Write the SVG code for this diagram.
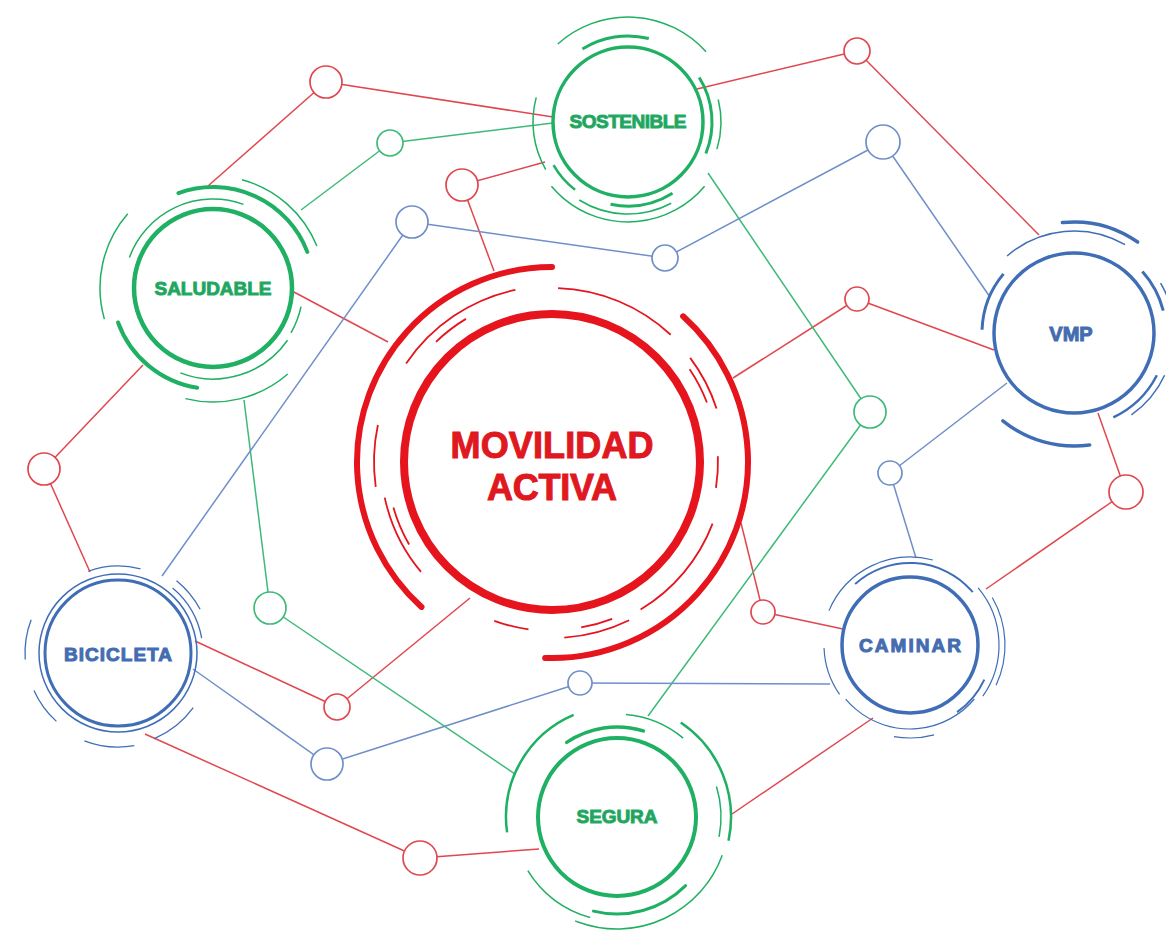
<svg xmlns="http://www.w3.org/2000/svg" width="1166" height="932" viewBox="0 0 1166 932">
<style>
.ln{fill:none;stroke-width:1.5}
.r{stroke:#e0474e}
.g{stroke:#3dba78}
.b{stroke:#6f8fc9}
.dot{fill:#fff;stroke-width:1.7}
.arc{fill:none}
.G{stroke:#1fb063}
.B{stroke:#3f6eb6}
.R{stroke:#e5141d}
.main{fill:#fff}
.lbl{font-family:"Liberation Sans",Arial,sans-serif;font-weight:bold;text-anchor:middle}
.gt{fill:#2a9c63;font-size:19px}
.bt{fill:#4a6ca8;font-size:19px}
.rt{fill:#dc1a1f;font-size:36px}
</style>
<rect width="1166" height="932" fill="#fff"/>
<g id="connectors" class="ln">
 <g class="r">
  <line x1="208" y1="186" x2="326" y2="82"/>
  <line x1="326" y1="82" x2="553" y2="117"/>
  <line x1="697" y1="89" x2="857" y2="51"/>
  <line x1="857" y1="51" x2="1039" y2="235"/>
  <line x1="462" y1="185" x2="545" y2="162"/>
  <line x1="462" y1="185" x2="494" y2="271"/>
  <line x1="292" y1="291" x2="388" y2="342"/>
  <line x1="733" y1="378" x2="857" y2="299"/>
  <line x1="857" y1="299" x2="994" y2="350"/>
  <line x1="1098" y1="413" x2="1126" y2="492"/>
  <line x1="1126" y1="492" x2="986" y2="589"/>
  <line x1="143" y1="365" x2="44" y2="469"/>
  <line x1="44" y1="469" x2="90" y2="572"/>
  <line x1="195" y1="641" x2="337" y2="707"/>
  <line x1="337" y1="707" x2="470" y2="598"/>
  <line x1="741" y1="523" x2="763" y2="612"/>
  <line x1="763" y1="612" x2="843" y2="629"/>
  <line x1="145" y1="734" x2="420" y2="858"/>
  <line x1="420" y1="858" x2="539" y2="849"/>
  <line x1="873" y1="718" x2="732" y2="814"/>
 </g>
 <g class="g">
  <line x1="301" y1="210" x2="390" y2="143"/>
  <line x1="390" y1="143" x2="553" y2="123"/>
  <line x1="708" y1="173" x2="870" y2="412"/>
  <line x1="870" y1="412" x2="648" y2="716"/>
  <line x1="244" y1="400" x2="270" y2="608"/>
  <line x1="270" y1="608" x2="515" y2="774"/>
 </g>
 <g class="b">
  <line x1="412" y1="222" x2="162" y2="576"/>
  <line x1="412" y1="222" x2="665" y2="258"/>
  <line x1="665" y1="258" x2="883" y2="142"/>
  <line x1="883" y1="142" x2="990" y2="297"/>
  <line x1="1007" y1="383" x2="890" y2="473"/>
  <line x1="890" y1="473" x2="916" y2="558"/>
  <line x1="580" y1="683" x2="830" y2="684"/>
  <line x1="580" y1="683" x2="327" y2="764"/>
  <line x1="327" y1="764" x2="193" y2="669"/>
 </g>
</g>
<g id="junctions">
 <circle id="r1" class="dot r" cx="326" cy="82" r="16"/>
 <circle id="r2" class="dot r" cx="857" cy="51" r="13"/>
 <circle id="r3" class="dot r" cx="462" cy="185" r="16"/>
 <circle id="r4" class="dot r" cx="857" cy="299" r="12"/>
 <circle id="r5" class="dot r" cx="44" cy="469" r="16"/>
 <circle id="r6" class="dot r" cx="1126" cy="492" r="17"/>
 <circle id="r7" class="dot r" cx="763" cy="612" r="12"/>
 <circle id="r8" class="dot r" cx="337" cy="707" r="13"/>
 <circle id="r9" class="dot r" cx="420" cy="858" r="17"/>
 <circle id="g1" class="dot g" cx="390" cy="143" r="13"/>
 <circle id="g2" class="dot g" cx="870" cy="412" r="16"/>
 <circle id="g3" class="dot g" cx="270" cy="608" r="16"/>
 <circle id="b1" class="dot b" cx="412" cy="222" r="16"/>
 <circle id="b2" class="dot b" cx="883" cy="142" r="17"/>
 <circle id="b3" class="dot b" cx="665" cy="258" r="13"/>
 <circle id="b4" class="dot b" cx="890" cy="473" r="12"/>
 <circle id="b5" class="dot b" cx="580" cy="683" r="12"/>
 <circle id="b6" class="dot b" cx="327" cy="764" r="16"/>
</g>
<g id="movilidad" transform="translate(552 462)" class="arc R">
 <circle class="main" r="148" stroke-width="8"/>
 <circle r="195" stroke-width="6" pathLength="360" stroke-dasharray="138 360" transform="rotate(132)" stroke-linecap="round"/>
 <circle r="196" stroke-width="6" pathLength="360" stroke-dasharray="140 360" transform="rotate(-48)" stroke-linecap="round"/>
 <g stroke-width="1.8">
  <circle r="176" pathLength="360" stroke-dasharray="44 360" transform="rotate(214)"/>
  <circle r="174" pathLength="360" stroke-dasharray="41 360" transform="rotate(-88)"/>
  <circle r="167" pathLength="360" stroke-dasharray="13 360" transform="rotate(226)"/>
  <circle r="173" pathLength="360" stroke-dasharray="19 360" transform="rotate(-37)"/>
  <circle r="166" pathLength="360" stroke-dasharray="13 360" transform="rotate(-34)"/>
  <circle r="166" pathLength="360" stroke-dasharray="11 360" transform="rotate(-2)"/>
  <circle r="172" pathLength="360" stroke-dasharray="38 360" transform="rotate(21)"/>
  <circle r="176" pathLength="360" stroke-dasharray="22 360" transform="rotate(64)"/>
  <circle r="169" pathLength="360" stroke-dasharray="12 360" transform="rotate(98)"/>
  <circle r="168" pathLength="360" stroke-dasharray="11 360" transform="rotate(69)"/>
  <circle r="178" pathLength="360" stroke-dasharray="20 360" transform="rotate(172)"/>
  <circle r="171" pathLength="360" stroke-dasharray="28 360" transform="rotate(140)"/>
  <circle r="165" pathLength="360" stroke-dasharray="14 360" transform="rotate(150)"/>
 </g>
 <text class="lbl rt" y="-4" textLength="203">MOVILIDAD</text>
 <text class="lbl rt" y="38" textLength="130">ACTIVA</text>
</g>
<g id="sostenible" transform="translate(628 122)" class="arc G">
 <circle class="main" r="75" stroke-width="3.5"/>
 <circle r="105" stroke-width="1.5" pathLength="360" stroke-dasharray="90 360" transform="rotate(-132)"/>
 <circle r="86" stroke-width="3" pathLength="360" stroke-dasharray="46 360" transform="rotate(-122)"/>
 <circle r="84" stroke-width="3" pathLength="360" stroke-dasharray="54 360" transform="rotate(-32)"/>
 <circle r="93" stroke-width="1.5" pathLength="360" stroke-dasharray="31 360" transform="rotate(-14)"/>
 <circle r="95" stroke-width="1.5" pathLength="360" stroke-dasharray="45 360" transform="rotate(150)"/>
 <circle r="86" stroke-width="2.5" pathLength="360" stroke-dasharray="22 360" transform="rotate(128)"/>
 <circle r="84" stroke-width="3" pathLength="360" stroke-dasharray="44 360" transform="rotate(58)"/>
 <circle r="100" stroke-width="1.5" pathLength="360" stroke-dasharray="100 360" transform="rotate(40)"/>
 <circle r="92" stroke-width="1.5" pathLength="360" stroke-dasharray="60 360" transform="rotate(62)"/>
 <text class="lbl gt" y="6" textLength="117">SOSTENIBLE</text>
</g>
<g id="saludable" transform="translate(213 288)" class="arc G">
 <circle class="main" r="79" stroke-width="4.5"/>
 <circle r="101" stroke-width="4" pathLength="360" stroke-dasharray="89 360" transform="rotate(-110)" stroke-linecap="round"/>
 <circle r="112" stroke-width="1.5" pathLength="360" stroke-dasharray="53 360" transform="rotate(-75)"/>
 <circle r="89" stroke-width="1.5" pathLength="360" stroke-dasharray="90 360" transform="rotate(-160)"/>
 <circle r="113" stroke-width="1.5" pathLength="360" stroke-dasharray="57 360" transform="rotate(164)"/>
 <circle r="101" stroke-width="4" pathLength="360" stroke-dasharray="61 360" transform="rotate(99)" stroke-linecap="round"/>
 <circle r="91" stroke-width="1.5" pathLength="360" stroke-dasharray="76 360" transform="rotate(35)"/>
 <circle r="114" stroke-width="1.5" pathLength="360" stroke-dasharray="55 360" transform="rotate(49)"/>
 <circle r="90" stroke-width="1.5" pathLength="360" stroke-dasharray="18 360" transform="rotate(12)"/>
 <text class="lbl gt" y="7" textLength="117">SALUDABLE</text>
</g>
<g id="vmp" transform="translate(1074 333)" class="arc B">
 <circle class="main" r="80" stroke-width="3.5"/>
 <circle r="111" stroke-width="3.5" pathLength="360" stroke-dasharray="41 360" transform="rotate(-96)" stroke-linecap="round"/>
 <circle r="102" stroke-width="1.5" pathLength="360" stroke-dasharray="71 360" transform="rotate(-131)"/>
 <circle r="92" stroke-width="3" pathLength="360" stroke-dasharray="38 360" transform="rotate(182)"/>
 <circle r="92" stroke-width="3" pathLength="360" stroke-dasharray="28 360" transform="rotate(-42)"/>
 <circle r="100" stroke-width="1.5" pathLength="360" stroke-dasharray="42 360" transform="rotate(-30)"/>
 <circle r="93" stroke-width="2.5" pathLength="360" stroke-dasharray="38 360" transform="rotate(27)"/>
 <circle r="100" stroke-width="1.5" pathLength="360" stroke-dasharray="30 360" transform="rotate(25)"/>
 <circle r="113" stroke-width="3.5" pathLength="360" stroke-dasharray="47 360" transform="rotate(82)" stroke-linecap="round"/>
 <text class="lbl bt" x="-3" y="8" style="font-size:20px">VMP</text>
</g>
<g id="bicicleta" transform="translate(118 653)" class="arc B">
 <circle class="main" r="73" stroke-width="3"/>
 <circle r="79" stroke-width="1.5"/>
 <g stroke-width="1.3">
  <circle r="93" pathLength="360" stroke-dasharray="23 360" transform="rotate(-51)"/>
  <circle r="93" pathLength="360" stroke-dasharray="25 360" transform="rotate(176)"/>
  <circle r="92" pathLength="360" stroke-dasharray="24 360" transform="rotate(132)"/>
  <circle r="94" pathLength="360" stroke-dasharray="31 360" transform="rotate(80)"/>
  <circle r="93" pathLength="360" stroke-dasharray="31 360" transform="rotate(36)"/>
  <circle r="87" pathLength="360" stroke-dasharray="35 360" transform="rotate(-110)"/>
  <circle r="85" pathLength="360" stroke-dasharray="40 360" transform="rotate(-50)"/>
 </g>
 <text class="lbl bt" y="8" textLength="108">BICICLETA</text>
</g>
<g id="caminar" transform="translate(910 645)" class="arc B">
 <circle class="main" r="68" stroke-width="3.5"/>
 <circle r="82" stroke-width="2" pathLength="360" stroke-dasharray="92 360" transform="rotate(-132)"/>
 <g stroke-width="1.2">
  <circle r="88" pathLength="360" stroke-dasharray="82 360" transform="rotate(-157)"/>
  <circle r="89" pathLength="360" stroke-dasharray="75 360" transform="rotate(-40)"/>
  <circle r="95" pathLength="360" stroke-dasharray="55 360" transform="rotate(-30)"/>
  <circle r="86" pathLength="360" stroke-dasharray="33 360" transform="rotate(145)"/>
  <circle r="84" pathLength="360" stroke-dasharray="100 360" transform="rotate(40)"/>
  <circle r="93" pathLength="360" stroke-dasharray="25 360" transform="rotate(75)"/>
 </g>
 <circle r="82" stroke-width="2" pathLength="360" stroke-dasharray="30 360" transform="rotate(25)"/>
 <text class="lbl bt" y="7" textLength="102">CAMINAR</text>
</g>
<g id="segura" transform="translate(617 817)" class="arc G">
 <circle class="main" r="79" stroke-width="4"/>
 <circle r="90" stroke-width="3.5" pathLength="360" stroke-dasharray="51 360" transform="rotate(-124)" stroke-linecap="round"/>
 <circle r="103" stroke-width="1.5" pathLength="360" stroke-dasharray="35 360" transform="rotate(-85)"/>
 <circle r="114" stroke-width="2.5" pathLength="360" stroke-dasharray="68 360" transform="rotate(-56)"/>
 <circle r="104" stroke-width="1.5" pathLength="360" stroke-dasharray="28 360" transform="rotate(-17)"/>
 <circle r="111" stroke-width="2.5" pathLength="360" stroke-dasharray="75 360" transform="rotate(172)"/>
 <circle r="104" stroke-width="1.5" pathLength="360" stroke-dasharray="44 360" transform="rotate(105)"/>
 <circle r="97" stroke-width="3" pathLength="360" stroke-dasharray="59 360" transform="rotate(45)" stroke-linecap="round"/>
 <circle r="112" stroke-width="1.5" pathLength="360" stroke-dasharray="92 360" transform="rotate(20)"/>
 <text class="lbl gt" y="6" textLength="81">SEGURA</text>
</g>
</svg>
